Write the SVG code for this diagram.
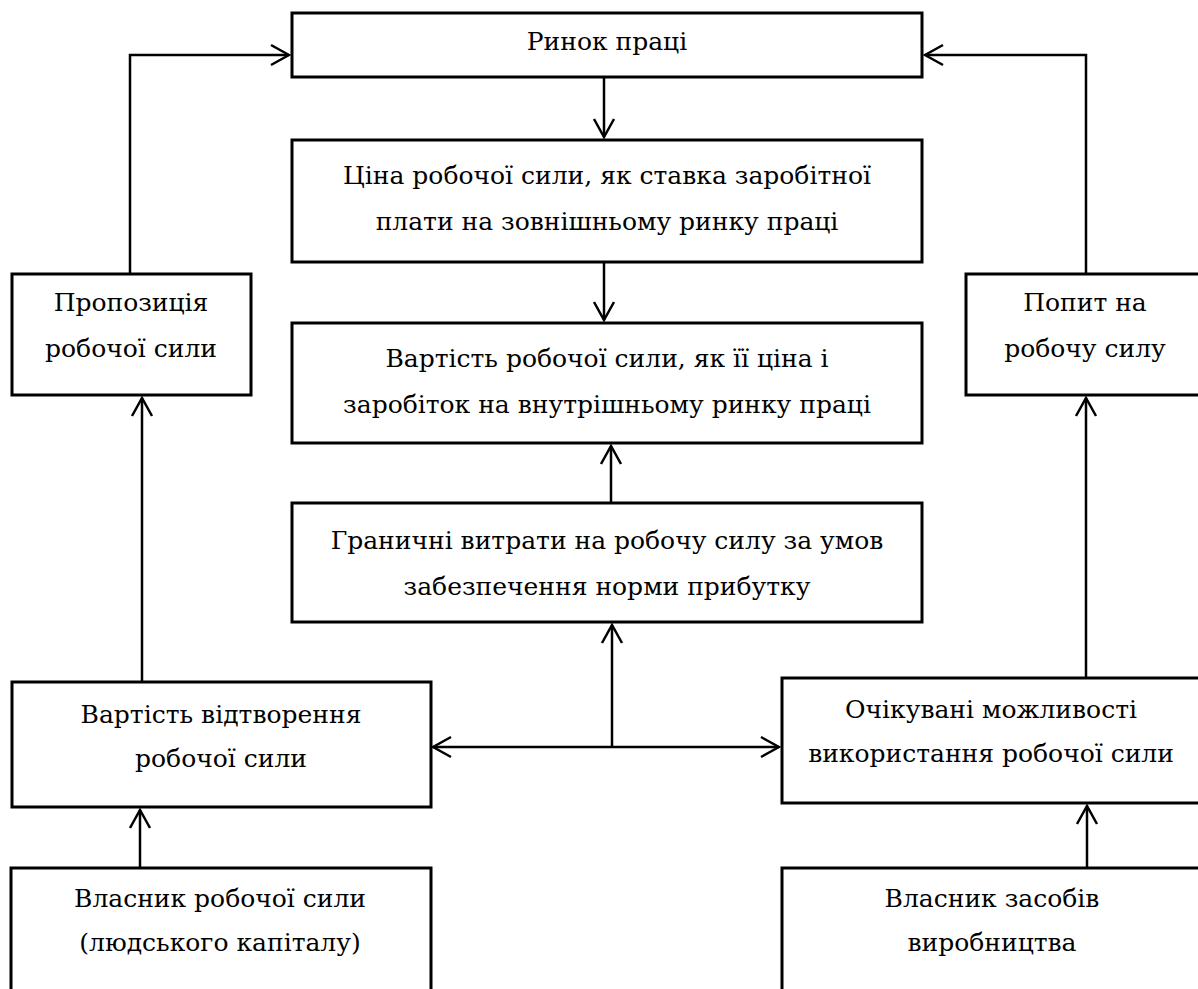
<svg xmlns="http://www.w3.org/2000/svg" width="1198" height="989" viewBox="0 0 1198 989">
<style>
.box{fill:#fff;stroke:#000;stroke-width:3}
.t{font-family:'DejaVu Serif',serif;font-size:25px;fill:#000;text-anchor:middle}
.c{fill:none;stroke:#000;stroke-width:2.5}
</style>
<defs>
<marker id="a" viewBox="-20 -12 22 24" refX="0" refY="0" markerWidth="22" markerHeight="24" orient="auto-start-reverse" markerUnits="userSpaceOnUse">
<path d="M-18,-10 L0,0 L-18,10" fill="none" stroke="#000" stroke-width="2.5"/>
</marker>
</defs>
<rect width="1198" height="989" fill="#fff"/>
<g id="n-rynok"><rect class="box" x="292" y="13" width="630" height="64"/><text class="t" x="607" y="50">Ринок праці</text></g>
<g id="n-tsina"><rect class="box" x="292" y="140" width="630" height="122"/><text class="t" x="607" y="184">Ціна робочої сили, як ставка заробітної</text><text class="t" x="607" y="230">плати на зовнішньому ринку праці</text></g>
<g id="n-vartist"><rect class="box" x="292" y="323" width="630" height="120"/><text class="t" x="607" y="367">Вартість робочої сили, як її ціна і</text><text class="t" x="607" y="413">заробіток на внутрішньому ринку праці</text></g>
<g id="n-granychni"><rect class="box" x="292" y="503" width="630" height="119"/><text class="t" x="607" y="549">Граничні витрати на робочу силу за умов</text><text class="t" x="607" y="595">забезпечення норми прибутку</text></g>
<g id="n-propozytsiia"><rect class="box" x="12" y="274" width="239" height="121"/><text class="t" x="131" y="311">Пропозиція</text><text class="t" x="131" y="357">робочої сили</text></g>
<g id="n-popyt"><rect class="box" x="966" y="274" width="240" height="121"/><text class="t" x="1085" y="311">Попит на</text><text class="t" x="1085" y="357">робочу силу</text></g>
<g id="n-vidtvorennia"><rect class="box" x="12" y="682" width="419" height="125"/><text class="t" x="221" y="723">Вартість відтворення</text><text class="t" x="221" y="767">робочої сили</text></g>
<g id="n-ochikuvani"><rect class="box" x="782" y="678" width="420" height="125"/><text class="t" x="991" y="718">Очікувані можливості</text><text class="t" x="991" y="762">використання робочої сили</text></g>
<g id="n-vlasnyk-rs"><rect class="box" x="11" y="868" width="420" height="130"/><text class="t" x="220" y="907">Власник робочої сили</text><text class="t" x="220" y="951">(людського капіталу)</text></g>
<g id="n-vlasnyk-zv"><rect class="box" x="782" y="868" width="420" height="130"/><text class="t" x="992" y="907">Власник засобів</text><text class="t" x="992" y="951">виробництва</text></g>
<g id="connectors" class="c">
<path class="c" d="M130,274 V55 H289" marker-end="url(#a)"/>
<path class="c" d="M1086,274 V55 H925" marker-end="url(#a)"/>
<path class="c" d="M604,77 V137" marker-end="url(#a)"/>
<path class="c" d="M604,262 V320" marker-end="url(#a)"/>
<path class="c" d="M611,503 V446" marker-end="url(#a)"/>
<path class="c" d="M612,747 V625" marker-end="url(#a)"/>
<path class="c" d="M433,747 H779" marker-start="url(#a)" marker-end="url(#a)"/>
<path class="c" d="M142,682 V398" marker-end="url(#a)"/>
<path class="c" d="M140,868 V810" marker-end="url(#a)"/>
<path class="c" d="M1086,678 V398" marker-end="url(#a)"/>
<path class="c" d="M1087,868 V806" marker-end="url(#a)"/>
</g>
</svg>
